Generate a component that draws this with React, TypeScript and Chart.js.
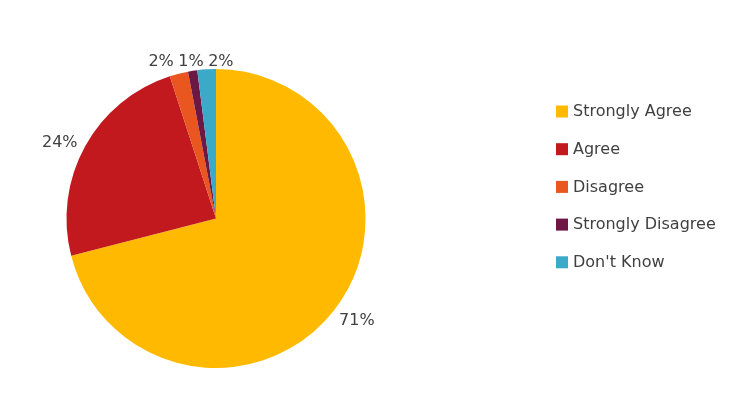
import React, { useEffect, useRef } from "react";
import { Chart, registerables } from "chart.js";

Chart.register(...registerables);

const categories = ["Strongly Agree", "Agree", "Disagree", "Strongly Disagree", "Don't Know"];
const values = [71, 24, 2, 1, 2];
const valueLabels = ["71%", "24%", "2%", "1%", "2%"];
const colors = ["#FFBA00", "#C2191F", "#E9561F", "#6D1745", "#3BA9C8"];

const FONT = "16px 'DejaVu Sans', sans-serif";
const TEXT_COLOR = "#404040";

const outsideLabels = {
  id: "outsideLabels",
  afterDatasetsDraw(chart: any) {
    const ctx = chart.ctx as CanvasRenderingContext2D;
    const meta = chart.getDatasetMeta(0);
    ctx.save();
    ctx.font = FONT;
    const gap = 5;
    const padX = 6;
    const padY = 8;
    type L = { text: string; x: number; y: number; w: number };
    const labels: L[] = meta.data.map((arc: any, i: number) => {
      const { x, y, startAngle, endAngle, outerRadius } = arc.getProps(
        ["x", "y", "startAngle", "endAngle", "outerRadius"],
        true
      );
      const mid = (startAngle + endAngle) / 2;
      const dx = Math.cos(mid);
      const dy = Math.sin(mid);
      const text = valueLabels[i];
      const w = ctx.measureText(text).width;
      const hx = w / 2 + padX;
      return {
        text,
        w,
        x: x + dx * (outerRadius + gap + hx),
        y: y + dy * (outerRadius + gap + padY) + 3,
      };
    });
    // resolve overlaps: group overlapping labels into a row
    const used = new Array(labels.length).fill(false);
    for (let i = 0; i < labels.length; i++) {
      if (used[i]) continue;
      const group = [i];
      used[i] = true;
      let changed = true;
      while (changed) {
        changed = false;
        for (let j = 0; j < labels.length; j++) {
          if (used[j]) continue;
          if (
            group.some(
              (k) =>
                Math.abs(labels[k].x - labels[j].x) < (labels[k].w + labels[j].w) / 2 + 4 &&
                Math.abs(labels[k].y - labels[j].y) < 16
            )
          ) {
            group.push(j);
            used[j] = true;
            changed = true;
          }
        }
      }
      if (group.length > 1) {
        group.sort((a, b) => labels[a].x - labels[b].x);
        const cx = group.reduce((s, k) => s + labels[k].x, 0) / group.length + 2;
        const cy = group.reduce((s, k) => s + labels[k].y, 0) / group.length;
        const sp = 4.5;
        const total = group.reduce((s, k) => s + labels[k].w, 0) + sp * (group.length - 1);
        let left = cx - total / 2;
        group.forEach((k) => {
          labels[k].x = left + labels[k].w / 2;
          labels[k].y = cy;
          left += labels[k].w + sp;
        });
      }
    }
    ctx.fillStyle = TEXT_COLOR;
    ctx.textAlign = "center";
    ctx.textBaseline = "middle";
    labels.forEach((l) => ctx.fillText(l.text, l.x, l.y));
    ctx.restore();
  },
};

const sideLegend = {
  id: "sideLegend",
  afterDraw(chart: any) {
    const ctx = chart.ctx as CanvasRenderingContext2D;
    ctx.save();
    ctx.font = FONT;
    ctx.textBaseline = "middle";
    ctx.textAlign = "left";
    const x0 = 556;
    const y0 = 111.5;
    const step = 37.7;
    const box = 12;
    categories.forEach((c, i) => {
      const y = y0 + i * step;
      ctx.fillStyle = colors[i];
      ctx.fillRect(x0, y - box / 2, box, box);
      ctx.fillStyle = TEXT_COLOR;
      ctx.fillText(c, x0 + box + 5, y + 0.5);
    });
    ctx.restore();
  },
};

export default function App() {
  const ref = useRef<HTMLCanvasElement | null>(null);
  useEffect(() => {
    if (!ref.current) return;
    const chart = new Chart(ref.current, {
      type: "pie",
      data: {
        labels: categories,
        datasets: [
          {
            data: values,
            backgroundColor: colors,
            borderWidth: 0,
          },
        ],
      },
      options: {
        responsive: false,
        animation: false,
        layout: { padding: { left: 66.5, right: 376.5, top: 69, bottom: 46 } },
        plugins: {
          legend: { display: false },
          tooltip: { enabled: false },
        },
      },
      plugins: [outsideLabels, sideLegend],
    });
    return () => chart.destroy();
  }, []);
  return (
    <div style={{ position: "fixed", left: 0, top: 0, width: 742, height: 414, background: "#fff" }}>
      <canvas ref={ref} width={742} height={414} />
    </div>
  );
}
